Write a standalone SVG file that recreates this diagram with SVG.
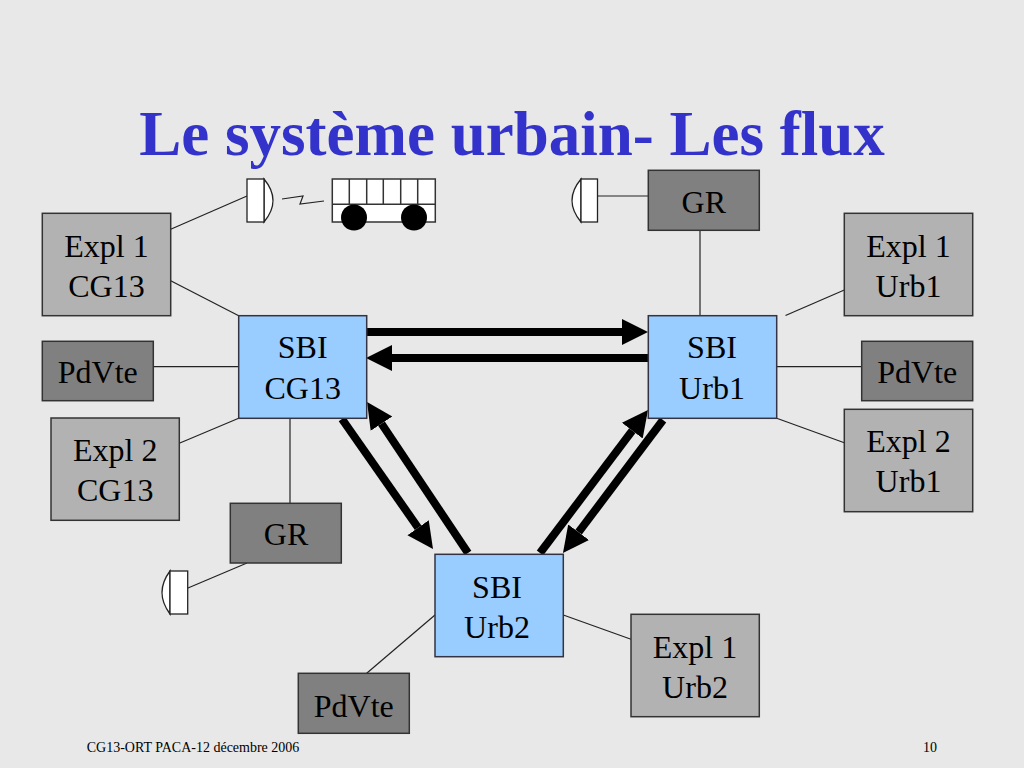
<svg xmlns="http://www.w3.org/2000/svg" width="1024" height="768" viewBox="0 0 1024 768">
<style>
.lbl{font-family:"Liberation Serif","Times New Roman",serif;font-size:32px;fill:#000;text-anchor:middle}
.expl{fill:#B2B2B2;stroke:#333;stroke-width:1.5}
.dark{fill:#808080;stroke:#333;stroke-width:1.5}
.sbi{fill:#99CCFF;stroke:#334;stroke-width:1.5}
.thin{stroke:#222;stroke-width:1.2;fill:none}
.flow{stroke:#000;stroke-width:8;fill:none;marker-end:url(#ah)}
.ant{fill:#fff;stroke:#222;stroke-width:1.3}
</style>
<defs>
<marker id="ah" markerUnits="userSpaceOnUse" markerWidth="28" markerHeight="28" refX="0" refY="13" orient="auto" viewBox="0 0 28 26">
<path d="M0,0 L26,13 L0,26 z" fill="#000"/>
</marker>
</defs>
<rect width="1024" height="768" fill="#E8E8E8"/>
<text x="512" y="155" font-family="Liberation Serif,'Times New Roman',serif" font-size="63" font-weight="bold" fill="#3333CC" text-anchor="middle">Le système urbain- Les flux</text>

<g id="connectors">
<line class="thin" x1="170.7" y1="229.3" x2="247" y2="196"/>
<polyline class="thin" points="282,199 303,196 300,204 324,201"/>
<line class="thin" x1="597" y1="196" x2="648" y2="196"/>
<line class="thin" x1="188" y1="588" x2="247" y2="563"/>
<line class="thin" x1="170.7" y1="280.7" x2="238.7" y2="315.7"/>
<line class="thin" x1="153.3" y1="366.7" x2="238.7" y2="366.7"/>
<line class="thin" x1="179.3" y1="443.3" x2="238.7" y2="418.3"/>
<line class="thin" x1="290" y1="418.3" x2="290" y2="503.3"/>
<line class="thin" x1="700" y1="230.3" x2="700" y2="315.7"/>
<line class="thin" x1="785.5" y1="315.5" x2="844.3" y2="290"/>
<line class="thin" x1="776.7" y1="366.7" x2="861.7" y2="366.7"/>
<line class="thin" x1="776.7" y1="418.3" x2="844.3" y2="442.7"/>
<line class="thin" x1="435" y1="615" x2="366.7" y2="673.3"/>
<line class="thin" x1="563.3" y1="615" x2="631" y2="639.3"/>
<line class="flow" x1="366" y1="332" x2="622" y2="332"/>
<line class="flow" x1="648" y1="358" x2="392" y2="358"/>
<line class="flow" x1="342" y1="419" x2="418.1" y2="527.7"/>
<line class="flow" x1="468" y1="553" x2="381.5" y2="423.6"/>
<line class="flow" x1="540" y1="553" x2="632.3" y2="430.7"/>
<line class="flow" x1="663" y1="420" x2="578.6" y2="532.2"/>
</g>

<g id="antenna-bus">
<path class="ant" d="M264,179 Q282,200.5 264,222 Z"/>
<rect class="ant" x="247" y="179" width="17" height="43"/>
</g>
<g id="bus">
<rect x="332.3" y="179" width="103" height="43" fill="#fff" stroke="#333" stroke-width="1.5"/>
<path d="M332.3,204.3 H435.3 M349.3,179 V204.3 M366.7,179 V204.3 M383.3,179 V204.3 M400.7,179 V204.3 M417.7,179 V204.3" stroke="#333" stroke-width="1.5" fill="none"/>
<circle cx="354" cy="217.5" r="13" fill="#000"/>
<circle cx="414" cy="217.5" r="13" fill="#000"/>
</g>
<g id="antenna-gr-top">
<path class="ant" d="M581,179 Q563,200.5 581,222 Z"/>
<rect class="ant" x="581" y="179" width="16.5" height="43"/>
</g>
<g id="antenna-gr-left">
<path class="ant" d="M170,571 Q154,592.5 170,614 Z"/>
<rect class="ant" x="170" y="571" width="17.7" height="43"/>
</g>

<g id="expl1-cg13">
<rect class="expl" x="42.3" y="213.3" width="128.4" height="102.4"/>
<text class="lbl" x="106.5" y="256.7">Expl 1</text>
<text class="lbl" x="106.5" y="297.3">CG13</text>
</g>
<g id="pdvte-cg13">
<rect class="dark" x="42.3" y="341.3" width="111" height="59.4"/>
<text class="lbl" x="97.8" y="383.3">PdVte</text>
</g>
<g id="expl2-cg13">
<rect class="expl" x="51" y="418" width="128.3" height="102.3"/>
<text class="lbl" x="115.2" y="461">Expl 2</text>
<text class="lbl" x="115.2" y="501">CG13</text>
</g>
<g id="sbi-cg13">
<rect class="sbi" x="238.7" y="315.7" width="128" height="102.6"/>
<text class="lbl" x="302.7" y="358.3">SBI</text>
<text class="lbl" x="302.7" y="399">CG13</text>
</g>
<g id="gr-cg13">
<rect class="dark" x="230.3" y="503.3" width="111" height="59.7"/>
<text class="lbl" x="286" y="545">GR</text>
</g>
<g id="gr-urb1">
<rect class="dark" x="648.3" y="170.3" width="111" height="60"/>
<text class="lbl" x="703.8" y="212.7">GR</text>
</g>
<g id="sbi-urb1">
<rect class="sbi" x="648.3" y="315.7" width="128.4" height="102.6"/>
<text class="lbl" x="712" y="358.3">SBI</text>
<text class="lbl" x="712" y="399">Urb1</text>
</g>
<g id="expl1-urb1">
<rect class="expl" x="844.3" y="213.3" width="128.4" height="102.4"/>
<text class="lbl" x="908.5" y="256.7">Expl 1</text>
<text class="lbl" x="908.5" y="297.3">Urb1</text>
</g>
<g id="pdvte-urb1">
<rect class="dark" x="861.7" y="341.3" width="111" height="59.4"/>
<text class="lbl" x="917.2" y="383.3">PdVte</text>
</g>
<g id="expl2-urb1">
<rect class="expl" x="844.3" y="409.3" width="128.4" height="102.4"/>
<text class="lbl" x="908.5" y="451.7">Expl 2</text>
<text class="lbl" x="908.5" y="491.7">Urb1</text>
</g>
<g id="sbi-urb2">
<rect class="sbi" x="435" y="554.3" width="128.3" height="102.4"/>
<text class="lbl" x="497" y="598.3">SBI</text>
<text class="lbl" x="497" y="638.3">Urb2</text>
</g>
<g id="pdvte-urb2">
<rect class="dark" x="298.3" y="673.3" width="111" height="60"/>
<text class="lbl" x="353.8" y="716.7">PdVte</text>
</g>
<g id="expl1-urb2">
<rect class="expl" x="631" y="614.3" width="128.3" height="102.4"/>
<text class="lbl" x="695" y="657.7">Expl 1</text>
<text class="lbl" x="695" y="698.3">Urb2</text>
</g>

<text x="86.7" y="752" font-family="Liberation Serif,'Times New Roman',serif" font-size="14" fill="#000">CG13-ORT PACA-12 décembre 2006</text>
<text x="923" y="752" font-family="Liberation Serif,'Times New Roman',serif" font-size="14" fill="#000">10</text>
</svg>
